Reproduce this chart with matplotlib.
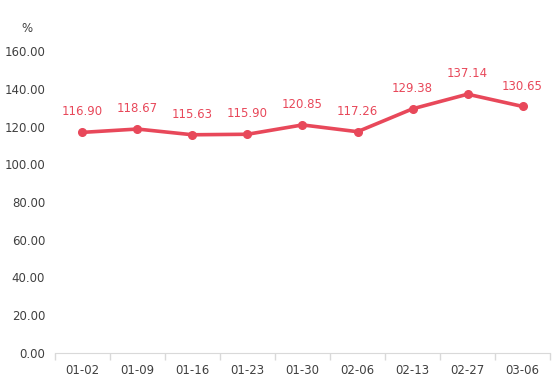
import matplotlib.pyplot as plt
import numpy as np

dates = ['01-02', '01-09', '01-16', '01-23', '01-30', '02-06', '02-13', '02-27', '03-06']
values = [116.90, 118.67, 115.63, 115.90, 120.85, 117.26, 129.38, 137.14, 130.65]
yticks = [0, 20, 40, 60, 80, 100, 120, 140, 160]

red = '#E8485A'
grey = '#404040'

fig = plt.figure(figsize=(5.54, 3.84), dpi=100)
ax = fig.add_axes([0.099, 0.081, 0.894, 0.786])

x = np.arange(len(dates))
ax.plot(x, values, color=red, linewidth=2.6, marker='o', markersize=5.5)
for xi, v in zip(x, values):
    ax.annotate(f'{v:.2f}', (xi, v), xytext=(0, 10), textcoords='offset points',
                ha='center', va='bottom', color=red, fontsize=8.5)

ax.set_xlim(-0.5, len(dates) - 0.5)
ax.set_ylim(0, 160)
ax.set_yticks(yticks)
ax.set_yticklabels([f'{t:.2f}' for t in yticks], color=grey, fontsize=8.5)
ax.set_xticks(x)
ax.set_xticklabels(dates, color=grey, fontsize=8.5)
ax.tick_params(axis='y', length=0, pad=7)
ax.tick_params(axis='x', length=0, pad=8)
ax.set_xticks(np.arange(-0.5, len(dates)), minor=True)
ax.tick_params(axis='x', which='minor', length=5, color='#D9D9D9', width=1)

for s in ['top', 'right', 'left']:
    ax.spines[s].set_visible(False)
ax.spines['bottom'].set_color('#D9D9D9')

fig.text(0.049, 0.925, '%', color=grey, fontsize=8.5, ha='center', va='center')

fig.savefig('out.png', dpi=100)
